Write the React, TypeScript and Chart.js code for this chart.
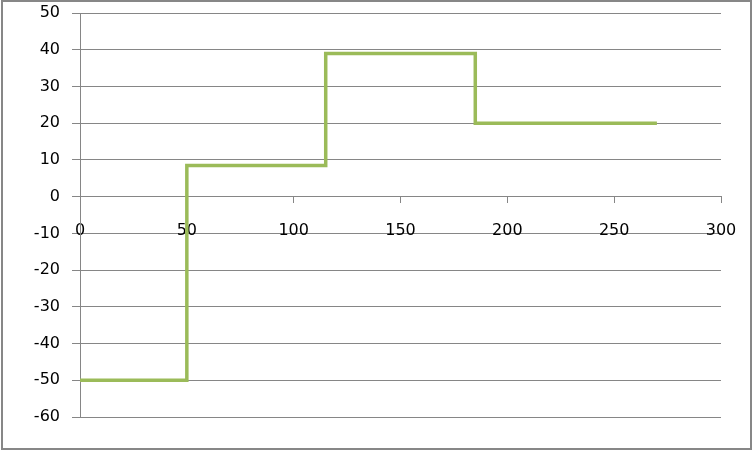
import React, { useEffect, useRef } from "react";
import { Chart, registerables } from "chart.js";

Chart.register(...registerables);

// Data
const stepX = [0, 50, 115, 185, 270];
const stepY = [-50, 8.5, 39, 20, 20];
const xRange = [0, 300];
const xStep = 50;
const yRange = [-60, 50];
const yStep = 10;

const GRID = "#868686";
const GREEN = "#9BBB59";
const FONT = { family: "'DejaVu Sans', sans-serif", size: 16 };

const frame = {
  id: "frame",
  afterDraw(chart: any) {
    const ctx = chart.ctx;
    ctx.save();
    ctx.strokeStyle = "#878787";
    ctx.lineWidth = 2;
    ctx.strokeRect(2, 1, 749, 448);
    ctx.restore();
  },
};

export default function App() {
  const ref = useRef<HTMLCanvasElement>(null);
  useEffect(() => {
    document.body.style.margin = "0";
    const points = stepX.map((x, i) => ({ x, y: stepY[i] }));
    const chart = new Chart(ref.current as HTMLCanvasElement, {
      type: "scatter",
      data: {
        datasets: [
          {
            data: points,
            showLine: true,
            stepped: true,
            borderColor: GREEN,
            backgroundColor: GREEN,
            borderWidth: 3.5,
            pointRadius: 0,
            pointHoverRadius: 0,
            clip: false as any,
          },
        ],
      },
      options: {
        animation: false,
        responsive: false,
        events: [],
        layout: { padding: { left: 0, top: 13, right: 32, bottom: 34 } },
        plugins: { legend: { display: false }, tooltip: { enabled: false } },
        scales: {
          x: {
            type: "linear",
            position: { y: 0 } as any,
            min: xRange[0],
            max: xRange[1],
            ticks: { stepSize: xStep, color: "#000", font: FONT, padding: 19, maxRotation: 0 },
            grid: { drawOnChartArea: false, drawTicks: true, tickLength: 6, color: GRID },
            border: { display: true, color: GRID },
            afterFit: (scale: any) => {
              scale.paddingLeft = 0;
              scale.paddingRight = 0;
            },
          },
          y: {
            type: "linear",
            position: "left",
            min: yRange[0],
            max: yRange[1],
            ticks: { stepSize: yStep, color: "#000", font: FONT, padding: 12 },
            grid: { color: GRID, drawTicks: true, tickLength: 8 },
            border: { display: true, color: GRID },
            afterFit: (scale: any) => {
              scale.width = 80;
              scale.paddingTop = 0;
              scale.paddingBottom = 0;
            },
          },
        },
      },
      plugins: [frame],
    });
    return () => chart.destroy();
  }, []);
  return (
    <div style={{ width: 753, height: 451, background: "#fff" }}>
      <canvas ref={ref} width={753} height={451} style={{ display: "block" }} />
    </div>
  );
}
